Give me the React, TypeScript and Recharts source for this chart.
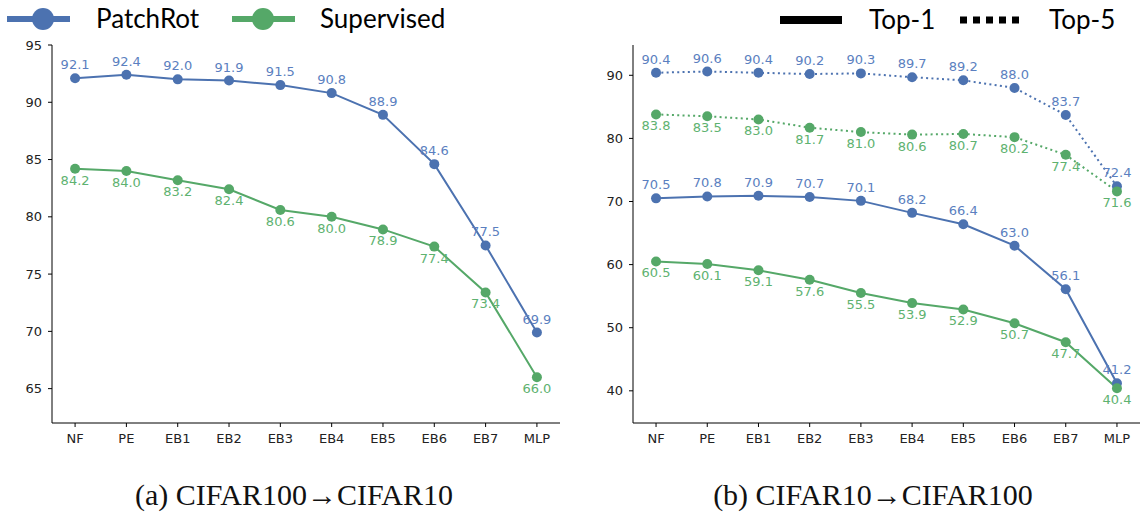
import { LabelList, Line, LineChart, XAxis, YAxis } from "recharts";

const stages = ["NF", "PE", "EB1", "EB2", "EB3", "EB4", "EB5", "EB6", "EB7", "MLP"];

// (a) CIFAR100 -> CIFAR10
const c100PatchRot = [92.1, 92.4, 92.0, 91.9, 91.5, 90.8, 88.9, 84.6, 77.5, 69.9];
const c100Supervised = [84.2, 84.0, 83.2, 82.4, 80.6, 80.0, 78.9, 77.4, 73.4, 66.0];
const leftTicks = [65, 70, 75, 80, 85, 90, 95];

// (b) CIFAR10 -> CIFAR100
const top1PatchRot = [70.5, 70.8, 70.9, 70.7, 70.1, 68.2, 66.4, 63.0, 56.1, 41.2];
const top1Supervised = [60.5, 60.1, 59.1, 57.6, 55.5, 53.9, 52.9, 50.7, 47.7, 40.4];
const top5PatchRot = [90.4, 90.6, 90.4, 90.2, 90.3, 89.7, 89.2, 88.0, 83.7, 72.4];
const top5Supervised = [83.8, 83.5, 83.0, 81.7, 81.0, 80.6, 80.7, 80.2, 77.4, 71.6];
const rightTicks = [40, 50, 60, 70, 80, 90];

const BLUE = "#4C72B0";
const GREEN = "#55A868";
const BLUE_TXT = "#5b7fc0";
const GREEN_TXT = "#5eb270";
const TICK_FONT = "'DejaVu Sans', sans-serif";
const LEGEND_FONT = "Lato, sans-serif";

const leftData = stages.map((s, i) => ({ i, name: s, patch: c100PatchRot[i], sup: c100Supervised[i] }));
const rightData = stages.map((s, i) => ({
  i,
  name: s,
  p1: top1PatchRot[i],
  s1: top1Supervised[i],
  p5: top5PatchRot[i],
  s5: top5Supervised[i],
}));

const xTicks = stages.map((_, i) => i);

const valueLabel = (color: string, dy: number) => (props: any) => {
  const { x, y, value } = props;
  return (
    <text x={x} y={y + dy} fill={color} fontSize={13} fontFamily={TICK_FONT} textAnchor="middle">
      {Number(value).toFixed(1)}
    </text>
  );
};

const tickStyle = { fontSize: 13, fontFamily: TICK_FONT, fill: "#222" };

function frame(domain: number[], yTicks: number[], yWidth: number) {
  return [
    <XAxis
      key="x"
      dataKey="i"
      type="number"
      domain={[-0.45, 9.45]}
      ticks={xTicks}
      tickFormatter={(v: number) => stages[v]}
      interval={0}
      height={47}
      tickSize={4}
      tickMargin={7}
      tick={tickStyle}
      axisLine={{ stroke: "#000" }}
      tickLine={{ stroke: "#000" }}
    />,
    <XAxis key="xt" xAxisId="top" orientation="top" type="number" domain={[-0.45, 9.45]} height={0} tick={false} tickLine={false} axisLine={{ stroke: "#000" }} />,
    <YAxis
      key="y"
      type="number"
      domain={domain}
      ticks={yTicks}
      width={yWidth}
      tickSize={4}
      tickMargin={6}
      tick={tickStyle}
      axisLine={{ stroke: "#000" }}
      tickLine={{ stroke: "#000" }}
      allowDataOverflow
    />,
    <YAxis key="yr" yAxisId="right" orientation="right" type="number" domain={domain} width={0} tick={false} tickLine={false} axisLine={{ stroke: "#000" }} />,
  ];
}

function series(key: string, color: string, txt: string, below: boolean, dotted = false) {
  return (
    <Line
      key={key}
      dataKey={key}
      stroke={color}
      strokeWidth={2}
      strokeDasharray={dotted ? "2 3.3" : undefined}
      dot={{ r: 5, fill: color, stroke: color, strokeWidth: 0 }}
      activeDot={false}
      isAnimationActive={false}
    >
      <LabelList dataKey={key} content={valueLabel(txt, below ? 16 : -9)} />
    </Line>
  );
}

function Caption({ x, text }: { x: number; text: string }) {
  return (
    <div
      style={{
        position: "absolute",
        left: x - 200,
        width: 400,
        top: 478,
        textAlign: "center",
        fontFamily: "'Liberation Serif', serif",
        fontSize: 30,
        color: "#111",
      }}
    >
      {text}
    </div>
  );
}

function Legends() {
  return (
    <svg width={1141} height={42} style={{ position: "absolute", left: 0, top: 0 }}>
      <line x1={7} x2={70} y1={19} y2={19} stroke={BLUE} strokeWidth={6} />
      <circle cx={43} cy={19} r={11} fill={BLUE} />
      <text x={96} y={28} fontSize={26} fontFamily={LEGEND_FONT} fill="#000">
        PatchRot
      </text>
      <line x1={232} x2={295} y1={19} y2={19} stroke={GREEN} strokeWidth={6} />
      <circle cx={263} cy={19} r={11} fill={GREEN} />
      <text x={320} y={28} fontSize={26} fontFamily={LEGEND_FONT} fill="#000">
        Supervised
      </text>

      <line x1={780} x2={842} y1={20} y2={20} stroke="#000" strokeWidth={8} />
      <text x={869} y={29} fontSize={26} fontFamily={LEGEND_FONT} fill="#000">
        Top-1
      </text>
      <line x1={960} x2={1022} y1={20} y2={20} stroke="#000" strokeWidth={7} strokeDasharray="7 6" />
      <text x={1049} y={29} fontSize={26} fontFamily={LEGEND_FONT} fill="#000">
        Top-5
      </text>
    </svg>
  );
}

export default function App() {
  return (
    <div style={{ position: "absolute", left: 0, top: 0, width: 1141, height: 516, background: "#fff", overflow: "hidden" }}>
      <Legends />
      <div style={{ position: "absolute", left: 0, top: 0 }}>
        <LineChart width={570} height={470} data={leftData} margin={{ top: 45, right: 10, bottom: 0, left: 0 }}>
          {frame([62, 95], leftTicks, 52)}
          {series("patch", BLUE, BLUE_TXT, false)}
          {series("sup", GREEN, GREEN_TXT, true)}
        </LineChart>
      </div>
      <div style={{ position: "absolute", left: 570, top: 0 }}>
        <LineChart width={571} height={470} data={rightData} margin={{ top: 45, right: 1, bottom: 0, left: 0 }}>
          {frame([34.9, 94.8], rightTicks, 63)}
          {series("p5", BLUE, BLUE_TXT, false, true)}
          {series("s5", GREEN, GREEN_TXT, true, true)}
          {series("p1", BLUE, BLUE_TXT, false)}
          {series("s1", GREEN, GREEN_TXT, true)}
        </LineChart>
      </div>
      <Caption x={294} text="(a) CIFAR100→CIFAR10" />
      <Caption x={873} text="(b) CIFAR10→CIFAR100" />
    </div>
  );
}
